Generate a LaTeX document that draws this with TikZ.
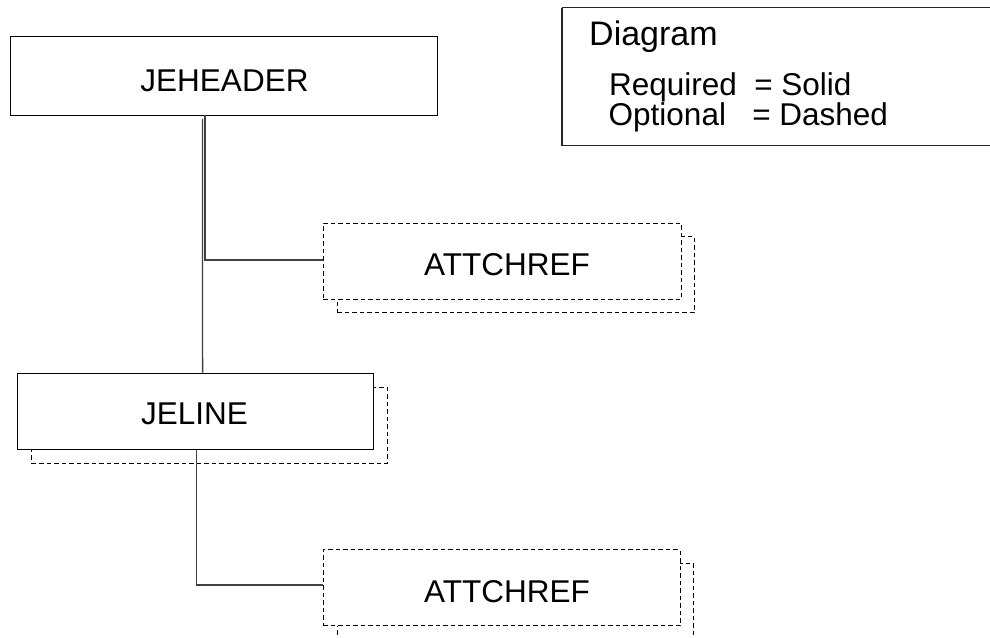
\documentclass[tikz,border=0pt]{standalone}
\usepackage{fontspec}
\setmainfont{Liberation Sans}
\begin{document}
\begin{tikzpicture}[x=1pt,y=-1pt,
  every node/.style={font=\fontsize{31.5}{36}\selectfont},
  solidbox/.style={draw=black,line width=1pt,fill=white,rectangle,inner sep=0pt,text depth=0pt},
  optbox/.style={draw=black,line width=1pt,fill=white,rectangle,inner sep=0pt,dash pattern=on 4.5pt off 3pt},
  conn/.style={draw=black!75,line width=1.4pt},
  legtext/.style={anchor=base west,inner sep=0pt}]
\useasboundingbox (0,0) rectangle (990,637);
% legend
\draw[line width=1.6pt,draw=black!85] (562,7.5) -- (1000,7.5) (562,7.5) -- (562,145.5) -- (1000,145.5);
\node[legtext,font=\fontsize{34}{40}\selectfont] (lgA) at (589,45.7) {Diagram};
\node[legtext] (lgB) at (608.8,95.7) {Required\ \ = Solid};
\node[legtext] (lgC) at (608.5,125) {Optional\ \ \ = Dashed};
% JEHEADER
\node[solidbox,minimum width=427pt,minimum height=79pt] (jeh) at (224,76) {};
\node[inner sep=0pt,anchor=base] (jehT) at (224.5,91.7) {JEHEADER};
% ATTCHREF 1
\node[optbox,minimum width=357pt,minimum height=76pt] (att1b) at (515.5,274.5) {};
\node[optbox,minimum width=358pt,minimum height=76pt] (att1) at (502,261) {};
\node[inner sep=0pt,anchor=base] (att1T) at (507,275) {ATTCHREF};
% JELINE
\node[optbox,minimum width=355.5pt,minimum height=76pt] (jelb) at (209.5,425) {};
\node[solidbox,minimum width=356.5pt,minimum height=76.3pt] (jel) at (195.6,411.2) {};
\node[inner sep=0pt,anchor=base] (jelT) at (194.5,424.3) {JELINE};
% ATTCHREF 2
\node[optbox,minimum width=356pt,minimum height=76pt] (att2b) at (515,601) {};
\node[optbox,minimum width=357pt,minimum height=75.7pt] (att2) at (501.5,587.8) {};
\node[inner sep=0pt,anchor=base] (att2T) at (507,602) {ATTCHREF};
% connectors
\draw[conn] ([xshift=192.5pt,yshift=-3pt]jeh.south west) -- ([xshift=185.7pt]jel.north west);
\draw[conn] ([xshift=195pt,yshift=1pt]jeh.south west) |- ([yshift=1pt]att1.west);
\draw[conn] ([xshift=179.4pt]jel.south west) |- ([yshift=3pt]att2.west);
\end{tikzpicture}
\end{document}
